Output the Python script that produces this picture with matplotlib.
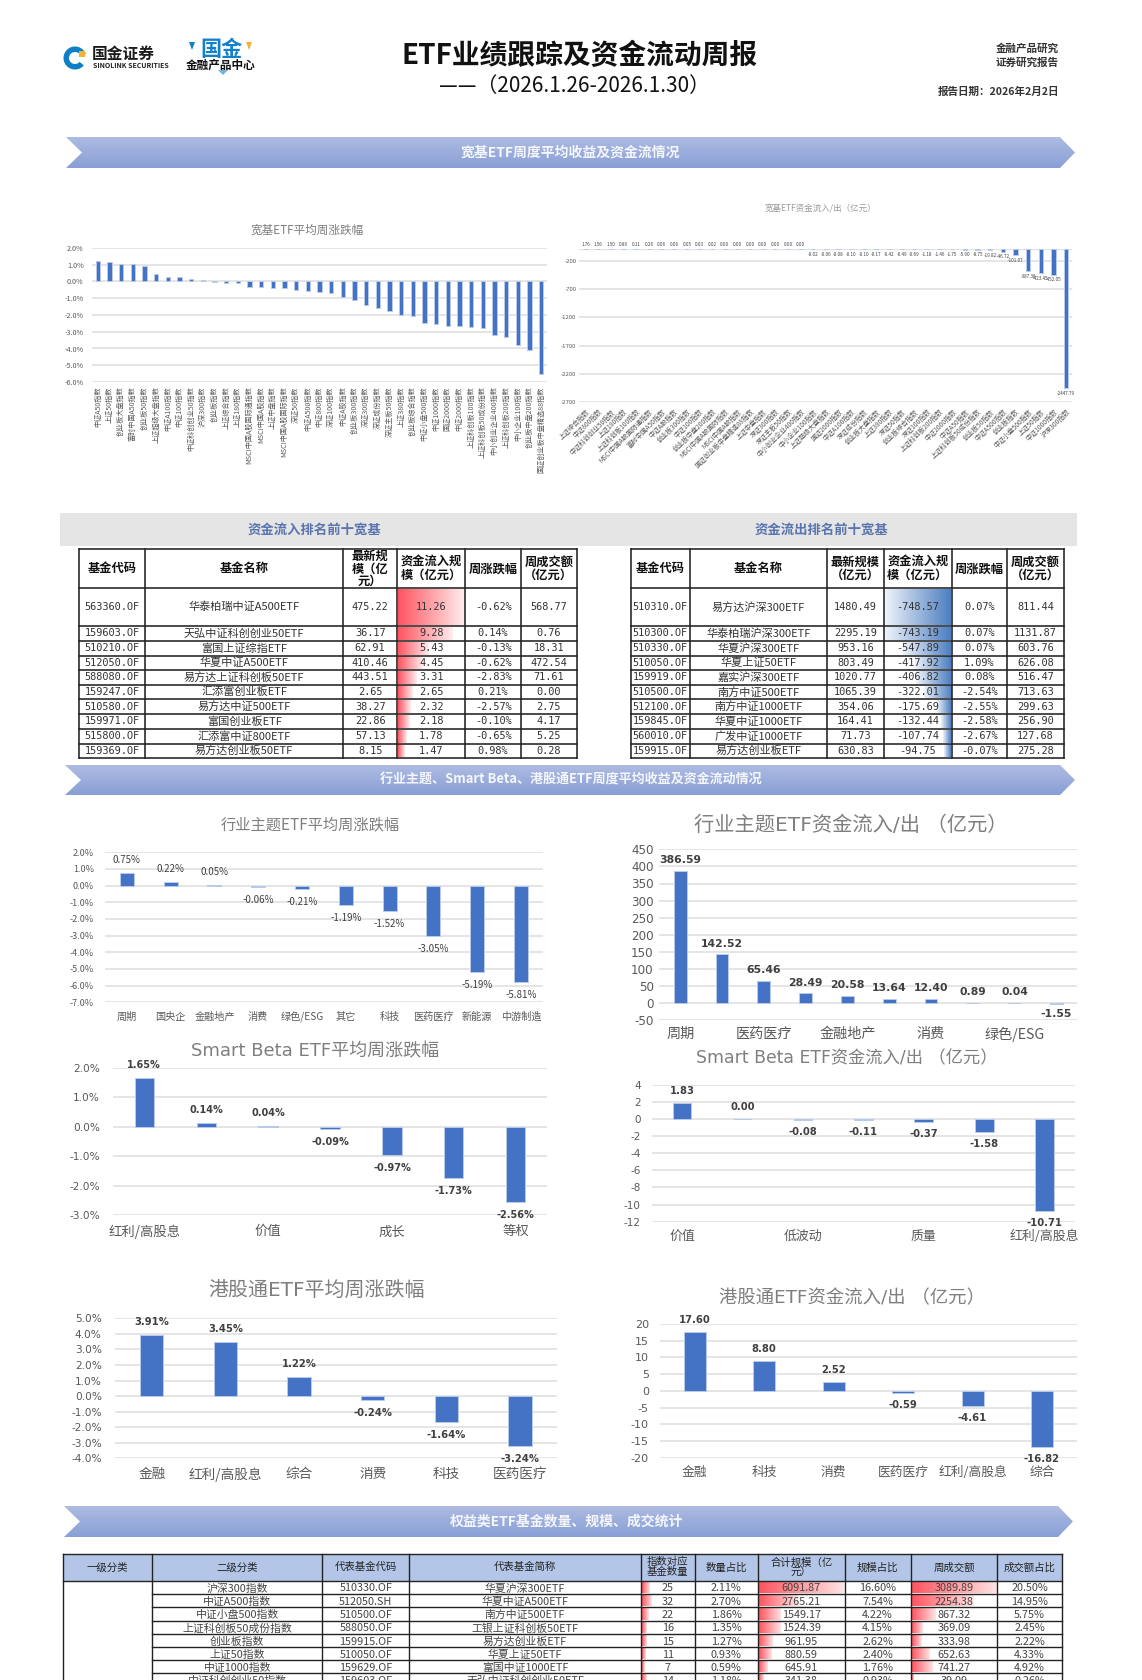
import numpy as np
import matplotlib
matplotlib.use('Agg')
import matplotlib.pyplot as plt
from matplotlib.colors import to_rgb
from matplotlib.patches import Polygon, Rectangle, Wedge

plt.rcParams['font.family'] = ['Noto Sans CJK SC', 'DejaVu Sans']
plt.rcParams['axes.unicode_minus'] = False
W, H = 1142, 1680
CJK = ['Noto Sans CJK SC', 'DejaVu Sans']
WIDE = ['DejaVu Sans', 'Noto Sans CJK SC']
MONO = ['DejaVu Sans Mono', 'Noto Sans CJK SC']
BLUE = '#4472C4'

# ---------- data: broad-based ETF charts ----------
broad_ret_cats = ['中证A50指数', '上证50指数', '创业板大盘指数', '富时中国A50指数', '创业板50指数', '上证超级大盘指数',
                  '中证A100指数', '中证100指数', '中证科创创业50指数', '沪深300指数', '创业板指数', '上证综合指数',
                  '上证180指数', 'MSCI中国A股国际通指数', 'MSCI中国A股指数', '上证中盘指数', 'MSCI中国A股国际指数',
                  '深证50指数', '中证A500指数', '中证800指数', '深证100指数', '中证A股指数', '创业板300指数',
                  '深证300指数', '深证成份指数', '深证主板50指数', '上证380指数', '创业板综合指数', '中证小盘500指数',
                  '中证1000指数', '国证2000指数', '中证2000指数', '上证科创板100指数', '上证科创板50成份指数',
                  '中小创业企业400指数', '上证科创板200指数', '中小企业100指数', '创业板中盘200指数',
                  '国证创业板中盘精选88指数']
broad_ret_vals = [1.25, 1.15, 1.05, 1.05, 0.95, 0.42, 0.28, 0.25, 0.12, 0.08, -0.05, -0.06, -0.10, -0.33, -0.35,
                  -0.38, -0.38, -0.50, -0.58, -0.65, -0.68, -0.92, -1.12, -1.40, -1.60, -1.75, -2.00, -2.05,
                  -2.50, -2.55, -2.65, -2.65, -2.70, -2.80, -3.20, -3.30, -3.80, -4.10, -5.50]
broad_flow_cats = ['上证综合指数', '中证800指数', '中证科创创业50指数', '上证180指数', '上证科创板100指数',
                   'MSCI中国A股国际通指数', '富时中国A50指数', '中证A股指数', '创业板300指数', '中证100指数',
                   '创业板中盘200指数', 'MSCI中国A股国际指数', 'MSCI中国A股指数', '国证创业板中盘精选88指数',
                   '上证中盘指数', '深证300指数', '深证主板50指数', '中小创业企业400指数', '中小企业100指数',
                   '上证超级大盘指数', '国证2000指数', '中证A100指数', '深证成份指数', '创业板大盘指数', '上证380指数',
                   '深证50指数', '创业板综合指数', '深证100指数', '上证科创板200指数', '中证2000指数', '中证A50指数',
                   '上证科创板50成份指数', '创业板50指数', '中证A500指数', '创业板指数', '中证小盘500指数', '上证50指数',
                   '中证1000指数', '沪深300指数']
broad_flow_vals = [1.76, 1.56, 1.50, 0.89, 0.11, 0.26, 0.06, 0.06, 0.05, 0.03, 0.02, 0.00, 0.00, 0.00, 0.00, 0.00,
                   0.00, 0.00, -0.02, -0.06, -0.08, -0.10, -0.10, -0.17, -0.42, -0.49, -0.69, -1.18, -1.46, -1.75,
                   -5.90, -8.75, -19.82, -46.72, -101.07, -387.38, -423.45, -452.05, -2447.79]

# ---------- data: theme / smart beta / HK charts ----------
theme_ret_cats = ['周期', '国央企', '金融地产', '消费', '绿色/ESG', '其它', '科技', '医药医疗', '新能源', '中游制造']
theme_ret_vals = [0.75, 0.22, 0.05, -0.06, -0.21, -1.19, -1.52, -3.05, -5.19, -5.81]
theme_flow_cats = ['周期', '', '医药医疗', '', '金融地产', '', '消费', '', '绿色/ESG', '']
theme_flow_vals = [386.59, 142.52, 65.46, 28.49, 20.58, 13.64, 12.40, 0.89, 0.04, -1.55]
sb_ret_cats = ['红利/高股息', '', '价值', '', '成长', '', '等权']
sb_ret_vals = [1.65, 0.14, 0.04, -0.09, -0.97, -1.73, -2.56]
sb_flow_cats = ['价值', '', '低波动', '', '质量', '', '红利/高股息']
sb_flow_vals = [1.83, 0.00, -0.08, -0.11, -0.37, -1.58, -10.71]
hk_ret_cats = ['金融', '红利/高股息', '综合', '消费', '科技', '医药医疗']
hk_ret_vals = [3.91, 3.45, 1.22, -0.24, -1.64, -3.24]
hk_flow_cats = ['金融', '科技', '消费', '医药医疗', '红利/高股息', '综合']
hk_flow_vals = [17.60, 8.80, 2.52, -0.59, -4.61, -16.82]

# ---------- data: top-ten tables ----------
top_header_in = ['基金代码', '基金名称', '最新规\n模（亿\n元）', '资金流入规\n模（亿元）', '周涨跌幅', '周成交额\n（亿元）']
in_codes = ['563360.OF', '159603.OF', '510210.OF', '512050.OF', '588080.OF', '159247.OF', '510580.OF', '159971.OF',
            '515800.OF', '159369.OF']
in_names = ['华泰柏瑞中证A500ETF', '天弘中证科创创业50ETF', '富国上证综指ETF', '华夏中证A500ETF', '易方达上证科创板50ETF',
            '汇添富创业板ETF', '易方达中证500ETF', '富国创业板ETF', '汇添富中证800ETF', '易方达创业板50ETF']
in_size = ['475.22', '36.17', '62.91', '410.46', '443.51', '2.65', '38.27', '22.86', '57.13', '8.15']
in_flow = [11.26, 9.28, 5.43, 4.45, 3.31, 2.65, 2.32, 2.18, 1.78, 1.47]
in_ret = ['-0.62%', '0.14%', '-0.13%', '-0.62%', '-2.83%', '0.21%', '-2.57%', '-0.10%', '-0.65%', '0.98%']
in_turn = ['568.77', '0.76', '18.31', '472.54', '71.61', '0.00', '2.75', '4.17', '5.25', '0.28']

top_header_out = ['基金代码', '基金名称', '最新规模\n（亿元）', '资金流入规\n模（亿元）', '周涨跌幅', '周成交额\n（亿元）']
out_codes = ['510310.OF', '510300.OF', '510330.OF', '510050.OF', '159919.OF', '510500.OF', '512100.OF', '159845.OF',
             '560010.OF', '159915.OF']
out_names = ['易方达沪深300ETF', '华泰柏瑞沪深300ETF', '华夏沪深300ETF', '华夏上证50ETF', '嘉实沪深300ETF', '南方中证500ETF',
             '南方中证1000ETF', '华夏中证1000ETF', '广发中证1000ETF', '易方达创业板ETF']
out_size = ['1480.49', '2295.19', '953.16', '803.49', '1020.77', '1065.39', '354.06', '164.41', '71.73', '630.83']
out_flow = [-748.57, -743.19, -547.89, -417.92, -406.82, -322.01, -175.69, -132.44, -107.74, -94.75]
out_ret = ['0.07%', '0.07%', '0.07%', '1.09%', '0.08%', '-2.54%', '-2.55%', '-2.58%', '-2.67%', '-0.07%']
out_turn = ['811.44', '1131.87', '603.76', '626.08', '516.47', '713.63', '299.63', '256.90', '127.68', '275.28']

# ---------- data: bottom table ----------
stat_header = ['一级分类', '二级分类', '代表基金代码', '代表基金简称', '指数对应\n基金数量', '数量占比', '合计规模（亿\n元）', '规模占比',
               '周成交额', '成交额占比']
stat_index = ['沪深300指数', '中证A500指数', '中证小盘500指数', '上证科创板50成份指数', '创业板指数', '上证50指数', '中证1000指数',
              '中证科创创业50指数']
stat_code = ['510330.OF', '512050.SH', '510500.OF', '588050.OF', '159915.OF', '510050.OF', '159629.OF', '159603.OF']
stat_name = ['华夏沪深300ETF', '华夏中证A500ETF', '南方中证500ETF', '工银上证科创板50ETF', '易方达创业板ETF', '华夏上证50ETF',
             '富国中证1000ETF', '天弘中证科创创业50ETF']
stat_count = [25, 32, 22, 16, 15, 11, 7, 14]
stat_count_pct = ['2.11%', '2.70%', '1.86%', '1.35%', '1.27%', '0.93%', '0.59%', '1.18%']
stat_scale = [6091.87, 2765.21, 1549.17, 1524.39, 961.95, 880.59, 645.91, 341.38]
stat_scale_pct = ['16.60%', '7.54%', '4.22%', '4.15%', '2.62%', '2.40%', '1.76%', '0.93%']
stat_turn = [3089.89, 2254.38, 867.32, 369.09, 333.98, 652.63, 741.27, 39.09]
stat_turn_pct = ['20.50%', '14.95%', '5.75%', '2.45%', '2.22%', '4.33%', '4.92%', '0.26%']

# ---------- canvas ----------
fig = plt.figure(figsize=(W / 100, H / 100), dpi=100, facecolor='white')
bg = fig.add_axes([0, 0, 1, 1], zorder=0)
bg.set_xlim(0, W)
bg.set_ylim(H, 0)
bg.axis('off')
bg.autoscale(False)


def txt(x, y, s, size, color='#222222', ha='center', va='center', weight='normal', family=None, **kw):
    return bg.text(x, y, s, fontsize=size, color=color, ha=ha, va=va, fontweight=weight,
                   family=family or CJK, zorder=6, **kw)


def gradient(x0, y0, x1, y1, c0, c1, horizontal=True, zorder=1):
    n = 64
    t = np.linspace(0, 1, n)
    c0, c1 = np.array(to_rgb(c0)), np.array(to_rgb(c1))
    g = c0[None, :] * (1 - t[:, None]) + c1[None, :] * t[:, None]
    arr = g[None, :, :] if horizontal else g[:, None, :]
    return bg.imshow(arr, extent=(x0, x1, y1, y0), aspect='auto', zorder=zorder, interpolation='bilinear')


def banner(x0, x1, y0, y1, label, tx, ty, size):
    ym = (y0 + y1) / 2
    pts = [(x0, y0), (x1 - 15, y0), (x1, ym), (x1 - 15, y1), (x0, y1), (x0 + 16, ym)]
    poly = Polygon(pts, closed=True, facecolor='none', edgecolor='none')
    bg.add_patch(poly)
    im = gradient(x0, y0, x1, y1, '#AEBCE2', '#889ED5', horizontal=False)
    im.set_clip_path(poly)
    txt(tx, ty, label, size, color='#F4F6FC', weight='bold')


def grid_table(xs, ys, lw=1.0, color='#222222', skip_first_col_from=None):
    for i, x in enumerate(xs):
        bg.plot([x, x], [ys[0], ys[-1]], color=color, lw=lw, zorder=5, solid_capstyle='projecting')
    for j, y in enumerate(ys):
        x_start = xs[0]
        if skip_first_col_from is not None and 0 < j < len(ys) - 1 and j >= skip_first_col_from:
            x_start = xs[1]
        bg.plot([x_start, xs[-1]], [y, y], color=color, lw=lw, zorder=5, solid_capstyle='projecting')


def top_table(xs, ys, header, codes, names, size, flow, ret, turn, positive):
    grid_table(xs, ys, lw=1.15)
    for k, h in enumerate(header):
        txt((xs[k] + xs[k + 1]) / 2, (ys[0] + ys[1]) / 2, h, 8.8, weight='bold', color='#111111', linespacing=0.95)
    peak = max(abs(v) for v in flow)
    for r in range(len(codes)):
        yc = (ys[r + 1] + ys[r + 2]) / 2
        a, b = xs[3], xs[4]
        w = (b - a) * abs(flow[r]) / peak
        if positive:
            gradient(a + 1, ys[r + 1] + 1, a + w - 1, ys[r + 2] - 1, '#FF5560', '#FFEDEE')
        else:
            gradient(b - w + 1, ys[r + 1] + 1, b - 1, ys[r + 2] - 1, '#EEF3FA', '#4E7FC2')
        cells = [codes[r], names[r], size[r], f'{flow[r]:.2f}', ret[r], turn[r]]
        for k, s in enumerate(cells):
            xc = (xs[k] + xs[k + 1]) / 2
            if k == 1:
                txt(xc, yc, s, 8.0, color='#333333')
            else:
                txt(xc, yc, s, 7.4, color='#333333', family=MONO)


def bar_chart(box, cats, vals, ylim, yticks, width, title, tpos, tsize, tick_size, cat_size, lab_size, lab_off,
              pct=False, cat_pad=6, tick_pad=3, title_family=CJK, tick_family=CJK, lab_family=CJK,
              title_color='#7F7F7F', lab_weight='normal'):
    x0, y0, x1, y1 = box
    ax = fig.add_axes([x0 / W, 1 - y1 / H, (x1 - x0) / W, (y1 - y0) / H], zorder=2)
    ax.patch.set_alpha(0)
    xpos = np.arange(len(vals))
    ax.bar(xpos, vals, width=width, color=BLUE, edgecolor='#B9CBEA', linewidth=0.7, zorder=3)
    ax.set_xlim(-0.5, len(vals) - 0.5)
    ax.set_ylim(*ylim)
    ax.set_yticks(yticks)
    if pct:
        ax.set_yticklabels([f'{t:.1f}%' for t in yticks])
    else:
        ax.set_yticklabels([f'{t:d}' for t in yticks])
    ax.set_xticks(xpos)
    ax.set_xticklabels(cats)
    ax.tick_params(axis='both', length=0)
    ax.tick_params(axis='y', pad=tick_pad, labelsize=tick_size, labelcolor='#595959')
    ax.tick_params(axis='x', pad=cat_pad, labelsize=cat_size, labelcolor='#595959')
    for lab in ax.get_yticklabels():
        lab.set_family(tick_family)
    ax.grid(axis='y', color='#E3E3E3', lw=1.3, zorder=0)
    ax.set_axisbelow(True)
    for sp in ax.spines.values():
        sp.set_visible(False)
    if lab_size:
        for x, v in zip(xpos, vals):
            s = f'{v:.2f}%' if pct else f'{v:.2f}'
            off = lab_off if v >= 0 else -lab_off
            ax.annotate(s, (x, v), xytext=(0, off * 0.72), textcoords='offset points', ha='center', va='center',
                        fontsize=lab_size, color='#404040', family=lab_family, fontweight=lab_weight,
                        annotation_clip=False, zorder=5)
    txt(tpos[0], tpos[1], title, tsize, color=title_color, family=title_family)
    return ax


# ---------- header ----------
bg.add_patch(Wedge((75, 58), 11.5, 40, 340, width=5.5, facecolor='#0E7FC6', edgecolor='none', zorder=3))
bg.add_patch(Rectangle((79, 51), 6, 6, facecolor='#F2B233', edgecolor='none', zorder=3))
txt(92, 54, '国金证券', 11.3, color='#1B1B1B', ha='left', weight='bold')
txt(93, 65.7, 'SINOLINK SECURITIES', 5.0, color='#222222', ha='left', weight='bold')
txt(221, 50, '国金', 15.2, color='#1380C9', weight='bold')
txt(221, 64.7, '金融产品中心', 8.4, color='#111111', weight='bold')
for px, py, c in [(192, 46, '#1380C9'), (249, 46, '#F2B233')]:
    bg.add_patch(Polygon([(px - 3, py - 4), (px + 3, py - 4), (px, py + 4)], facecolor=c, edgecolor='none', zorder=3))
bg.add_patch(Polygon([(218, 70), (228, 70), (223, 75)], facecolor='#6BB4E4', edgecolor='none', zorder=3))

txt(580, 56, 'ETF业绩跟踪及资金流动周报', 20.0, color='#111111', weight='bold')
txt(575, 85.7, '——（2026.1.26-2026.1.30）', 15.0, color='#111111')
txt(1059, 49, '金融产品研究', 7.6, ha='right', weight='bold', color='#333333')
txt(1059, 62.7, '证券研究报告', 7.6, ha='right', weight='bold', color='#333333')
txt(1059, 92, '报告日期：2026年2月2日', 7.6, ha='right', weight='bold', color='#333333')

banner(66, 1075, 137, 168, '宽基ETF周度平均收益及资金流情况', 570, 152.7, 10.0)
banner(65, 1075, 765, 795, '行业主题、Smart Beta、港股通ETF周度平均收益及资金流动情况', 571, 780, 9.4)
banner(64, 1073, 1506, 1537, '权益类ETF基金数量、规模、成交统计', 567, 1521, 10.0)

# ---------- broad-based charts ----------
ax1 = bar_chart((92, 248, 547, 382), broad_ret_cats, broad_ret_vals, (-6, 2), list(range(-6, 3)), 0.36,
                '宽基ETF平均周涨跌幅', (306.7, 230), 8.4, 5.2, 5.1, 0, 0, pct=True, cat_pad=3, tick_pad=6)
for lab in ax1.get_xticklabels():
    lab.set_rotation(90)

ax2 = bar_chart((579.3, 249.3, 1072.4, 402.3), broad_flow_cats, broad_flow_vals, (-2700, 0),
                [-2700, -2200, -1700, -1200, -700, -200], 0.33,
                '宽基ETF资金流入/出（亿元）', (820.7, 209), 6.1, 4.3, 4.8, 3.3, 5, tick_pad=2, cat_pad=4,
                title_color='#9A9A9A')
ax2.axhline(0, color='#E3E3E3', lw=1.0, zorder=1)
for lab in ax2.get_xticklabels():
    lab.set_rotation(45)
    lab.set_ha('right')
    lab.set_rotation_mode('anchor')

# ---------- top-ten tables ----------
bg.add_patch(Rectangle((60, 512.7), 1016.7, 33.3, facecolor='#E5E5E5', edgecolor='none', zorder=1))
txt(314, 530, '资金流入排名前十宽基', 9.6, color='#5A74AE', weight='bold')
txt(821.7, 530, '资金流出排名前十宽基', 9.6, color='#5A74AE', weight='bold')
rows_y = [549.3, 588.3, 626, 641, 655.7, 670.3, 684.7, 699.3, 714, 729, 743.7, 758]
top_table([79.3, 145.1, 343.1, 397.2, 465.4, 520.8, 576.9], rows_y, top_header_in,
          in_codes, in_names, in_size, in_flow, in_ret, in_turn, True)
top_table([630.7, 690, 826.7, 884, 951.7, 1007.3, 1064], rows_y, top_header_out,
          out_codes, out_names, out_size, out_flow, out_ret, out_turn, False)

# ---------- theme charts ----------
bar_chart((105, 852.3, 542.7, 1002.3), theme_ret_cats, theme_ret_vals, (-7, 2), list(range(-7, 3)), 0.32,
          '行业主题ETF平均周涨跌幅', (310, 825), 11.0, 6.5, 7.3, 7.0, 13, pct=True, cat_pad=7, tick_pad=8)
bar_chart((659.3, 849.3, 1077.3, 1020.3), theme_flow_cats, theme_flow_vals, (-50, 450), list(range(-50, 451, 50)),
          0.31, '行业主题ETF资金流入/出 （亿元）', (850.7, 825), 14.6, 8.6, 10.2, 7.8, 10.7, cat_pad=4.5, tick_pad=4,
          title_family=WIDE, tick_family=WIDE, lab_family=WIDE, lab_weight='bold')
bar_chart((113.3, 1067.7, 546.7, 1215.3), sb_ret_cats, sb_ret_vals, (-3, 2), list(range(-3, 3)), 0.31,
          'Smart Beta ETF平均周涨跌幅', (315, 1051.7), 13.0, 7.6, 9.6, 7.0, 13, pct=True, cat_pad=6.5, tick_pad=9.5,
          title_family=WIDE, tick_family=WIDE, lab_family=WIDE, lab_weight='bold')
bar_chart((651.7, 1084.7, 1075, 1221.7), sb_flow_cats, sb_flow_vals, (-12, 4), list(range(-12, 5, 2)), 0.31,
          'Smart Beta ETF资金流入/出 （亿元）', (846.7, 1058), 12.4, 7.5, 9.3, 7.2, 12, cat_pad=6, tick_pad=8,
          title_family=WIDE, tick_family=WIDE, lab_family=WIDE, lab_weight='bold')
bar_chart((115, 1318.3, 556.7, 1458.3), hk_ret_cats, hk_ret_vals, (-4, 5), list(range(-4, 6)), 0.316,
          '港股通ETF平均周涨跌幅', (316.7, 1290), 14.4, 7.6, 9.8, 7.2, 13, pct=True, cat_pad=6.5, tick_pad=9.5,
          title_family=WIDE, tick_family=WIDE, lab_family=WIDE, lab_weight='bold')
bar_chart((660, 1324, 1076.7, 1457.7), hk_flow_cats, hk_flow_vals, (-20, 20), list(range(-20, 21, 5)), 0.317,
          '港股通ETF资金流入/出 （亿元）', (851.7, 1298.5), 13.2, 8.0, 9.2, 7.2, 12, cat_pad=6, tick_pad=8,
          title_family=WIDE, tick_family=WIDE, lab_family=WIDE, lab_weight='bold')

# ---------- bottom statistics table ----------
sx = [63.2, 152, 322.4, 409.2, 640.8, 694.7, 757.9, 844.7, 910.5, 997.4, 1061.8]
sy = [1554, 1580.7, 1594, 1607.3, 1620.7, 1634, 1647.3, 1660.3, 1673.3, 1686.3]
bg.add_patch(Rectangle((sx[0], sy[0]), sx[-1] - sx[0], sy[1] - sy[0], facecolor='#B4C6E7', edgecolor='none', zorder=1))
grid_table(sx, sy, lw=1.0, skip_first_col_from=2)
for k, h in enumerate(stat_header):
    txt((sx[k] + sx[k + 1]) / 2, (sy[0] + sy[1]) / 2, h, 7.5, color='#222222', linespacing=1.0)
count_ref = 170
for r in range(len(stat_index)):
    yt, yb = sy[r + 1] + 1, sy[r + 2] - 1
    yc = (yt + yb) / 2 + 1
    for col, val, peak in [(4, stat_count[r], count_ref), (6, stat_scale[r], max(stat_scale)), (8, stat_turn[r], max(stat_turn))]:
        gradient(sx[col] + 1, yt, sx[col] + 1 + (sx[col + 1] - sx[col] - 2) * val / peak, yb, '#FF5560', '#FFE3E4')
    cells = [None, stat_index[r], stat_code[r], stat_name[r], str(stat_count[r]), stat_count_pct[r],
             f'{stat_scale[r]:.2f}', stat_scale_pct[r], f'{stat_turn[r]:.2f}', stat_turn_pct[r]]
    for k, s in enumerate(cells):
        if s is not None:
            t = txt((sx[k] + sx[k + 1]) / 2, yc, s, 7.8, color='#444444')
            t.set_clip_on(True)

bg.set_xlim(0, W)
bg.set_ylim(H, 0)
fig.savefig('out.png', dpi=100, facecolor='white')
